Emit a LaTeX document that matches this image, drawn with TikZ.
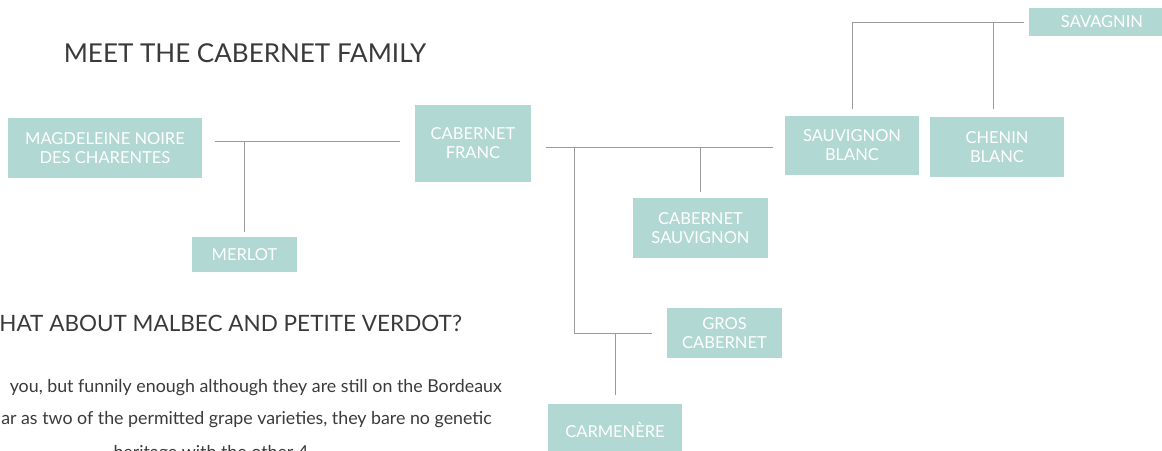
\documentclass[tikz,border=0pt]{standalone}
\usepackage{fontspec}
\setmainfont{Lato}
\usetikzlibrary{calc,positioning}
\definecolor{grape}{HTML}{B2D8D3}
\definecolor{stem}{HTML}{9A9A9A}
\definecolor{ink}{HTML}{3A3A3A}
\tikzset{%
	variety/.style  = {fill=grape, text=white, inner sep=0pt, align=center, font=\fontsize{16.5}{19}\selectfont},
	branch/.style   = {stem, line width=1pt},
	heading/.style  = {ink, inner sep=0pt},
	blurb/.style    = {ink, inner sep=0pt, font=\fontsize{17.8}{22}\selectfont},
	waypoint/.style = {coordinate},
}

\begin{document}
\begin{tikzpicture}[x=1pt,y=-1pt]
	\clip (0,0) rectangle (1162,450);
	\node[heading, font=\fontsize{26}{30}\selectfont] (title) at (245,53) {MEET THE CABERNET FAMILY};
	% parents of cabernet franc
	\node[variety, minimum width=194pt, minimum height=60pt] (magd) at (105,148) {MAGDELEINE NOIRE\\DES CHARENTES};
	\node[variety, minimum width=116pt, minimum height=77pt] (franc) at (473,143.5) {CABERNET\\FRANC};
	\node[variety, minimum width=105pt, minimum height=35pt] (merlot) at (244.5,254.5) {MERLOT};
	% children of cabernet franc
	\node[variety, minimum width=135pt, minimum height=60pt] (csauv) at (700.5,228) {CABERNET\\SAUVIGNON};
	\node[variety, minimum width=115pt, minimum height=50pt] (gros) at (724.5,333) {GROS\\CABERNET};
	\node[variety, minimum width=134pt, minimum height=52pt] (carm) at (615,430) {CARMENÈRE};
	\node[variety, minimum width=134pt, minimum height=59pt] (sblanc) at (852,145.5) {SAUVIGNON\\BLANC};
	\node[variety, minimum width=134pt, minimum height=60pt] (chenin) at (997,147) {CHENIN\\BLANC};
	\node[variety, minimum width=146pt, minimum height=28pt] (savagnin) at (1102,22) {SAVAGNIN};
	% malbec and petit verdot
	\node[heading, font=\fontsize{22.5}{26}\selectfont, anchor=base east] (malbec) at (462,331) {HAT ABOUT MALBEC AND PETITE VERDOT?};
	\node[blurb, anchor=base east] (line1) at (502,392) {you, but funnily enough although they are still on the Bordeaux};
	\node[blurb, anchor=base east] (line2) at (492,424) {ar as two of the permitted grape varieties, they bare no genetic};
	\node[blurb, anchor=base] (line3) at (213,458) {heritage with the other 4.};
	% connectors
	\coordinate[waypoint] (mjoin) at (245,141);
	\coordinate[waypoint] (fjoin) at (574,147);
	\draw[branch] ($(magd.east |- mjoin)+(13,0)$) -- ($(franc.west |- mjoin)+(-15,0)$);
	\draw[branch] (merlot.north |- mjoin) -- ($(merlot.north)+(0,-5)$);
	\draw[branch] ($(franc.east |- fjoin)+(15,0)$) -- ($(sblanc.west |- fjoin)+(-12,0)$);
	\draw[branch] (csauv.north |- fjoin) -- ($(csauv.north)+(0,-6)$);
	\draw[branch] (fjoin) |- ($(gros.west)+(-15,0)$);
	\draw[branch] (carm.north |- gros.west) -- ($(carm.north)+(0,-9)$);
	\draw[branch] ($(sblanc.north)+(0,-7)$) |- ($(savagnin.west)+(-5,0)$);
	\draw[branch] ($(chenin.north |- savagnin.west)+(-4,0)$) -- ($(chenin.north)+(-4,-8)$);
\end{tikzpicture}
\end{document}
